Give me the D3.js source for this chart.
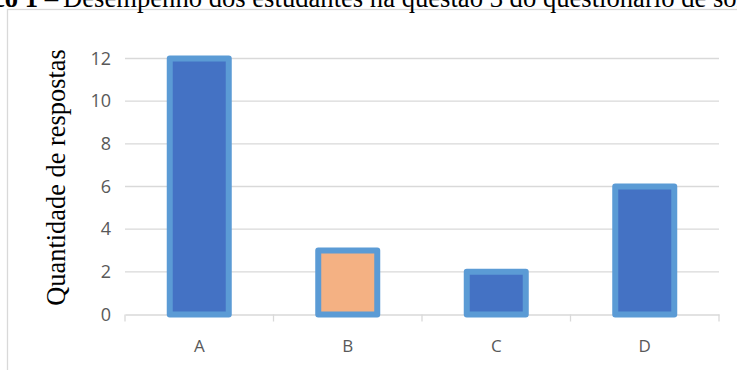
<!DOCTYPE html>
<html><head><meta charset="utf-8">
<script src="https://cdn.jsdelivr.net/npm/d3@7"></script>
<style>body{margin:0;background:#fff}svg{display:block}</style>
</head><body>
<script>
const categories = ["A","B","C","D"];
const values = [12,3,2,6];
const highlight = ["B"];
const yTicks = [0,2,4,6,8,10,12];
const titleBold = "Gráfico 1";
const titleRest = "Desempenho dos estudantes na questão 3 do questionário de sondagem";
const yTitle = "Quantidade de respostas";

const W=737,H=370;
const serif="'Liberation Serif','Times New Roman',serif";
const sans="'Open Sans','Liberation Sans',sans-serif";
const svg=d3.select("body").append("svg").attr("width",W).attr("height",H);
// frame
svg.append("rect").attr("x",7.5).attr("y",9.5).attr("width",W+20).attr("height",H+20)
  .attr("fill","none").attr("stroke","#d9d9d9").attr("stroke-width",1.3);
// title (partly cut off at top as in the reference)
const t2=svg.append("text").attr("x",63).attr("y",7).attr("font-family",serif).attr("font-size",24).attr("fill","#000").text(titleRest);
const sub=t2.node().getSubStringLength(0, titleRest.indexOf("de so")+5);
const fs=24*674/sub;
t2.attr("font-size",fs);
svg.append("text").attr("x",58).attr("y",7).attr("text-anchor","end").attr("font-family",serif).attr("font-size",fs).attr("fill","#000")
  .call(s=>{s.append("tspan").attr("font-weight","bold").text(titleBold);s.append("tspan").text(" –");});

const x=d3.scaleBand().domain(categories).range([125,719]).paddingInner(0).paddingOuter(0);
const y=d3.scaleLinear().domain([0,12]).range([314.5,58.5]);

// gridlines
svg.append("g").selectAll("line").data(yTicks.filter(d=>d>0)).join("line")
  .attr("x1",125).attr("x2",719).attr("y1",d=>y(d)).attr("y2",d=>y(d))
  .attr("stroke","#d9d9d9").attr("stroke-width",1.3);

// x axis
const xa=svg.append("g").attr("transform",`translate(0,${y(0)})`)
  .call(d3.axisBottom(x).tickSize(0).tickSizeOuter(0).tickPadding(25));
xa.select(".domain").attr("stroke","#d9d9d9").attr("stroke-width",1.3);
xa.selectAll("text").attr("font-family",sans).attr("font-size",17).attr("fill","#595959");
const bounds=categories.map(c=>x(c)).concat([x.range()[1]]);
xa.append("g").selectAll("line").data(bounds).join("line")
  .attr("x1",d=>d).attr("x2",d=>d).attr("y1",0).attr("y2",7)
  .attr("stroke","#d9d9d9").attr("stroke-width",1.3);

// y axis labels
const ya=svg.append("g").attr("transform","translate(125,0)")
  .call(d3.axisLeft(y).tickValues(yTicks).tickSize(0).tickPadding(14));
ya.select(".domain").remove();
ya.selectAll("text").attr("font-family",sans).attr("font-size",18).attr("fill","#595959");

// bars
const bw=59;
svg.append("g").selectAll("rect").data(categories).join("rect")
  .attr("x",(d)=>x(d)+x.bandwidth()/2-bw/2)
  .attr("y",(d,i)=>y(values[i]))
  .attr("width",bw)
  .attr("height",(d,i)=>y(0)-y(values[i]))
  .attr("fill",d=>highlight.includes(d)?"#f4b183":"#4472c4")
  .attr("stroke","#5b9bd5").attr("stroke-width",6).attr("stroke-linejoin","round");

// y title
svg.append("text").attr("transform",`translate(65,${(50+305)/2}) rotate(-90)`)
  .attr("text-anchor","middle").attr("font-family",serif)
  .attr("font-size",26.4).attr("fill","#000").text(yTitle);
</script>
</body></html>
